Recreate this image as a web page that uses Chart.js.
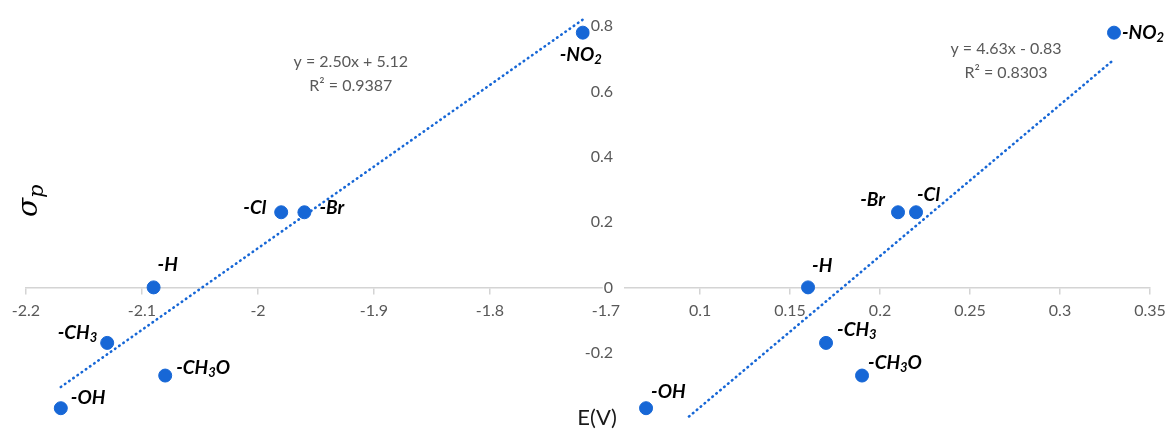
<!DOCTYPE html>
<html>
<head>
<meta charset="utf-8">
<script src="https://cdn.jsdelivr.net/npm/chart.js@4.4.1/dist/chart.umd.min.js"></script>
<style>
  body { margin: 0; background: #fff; width: 1167px; height: 431px; overflow: hidden; position: relative; }
  canvas { position: absolute; top: 0; }
  #leftChart { left: 0; }
  #rightChart { left: 540px; }
</style>
</head>
<body>
<canvas id="leftChart" width="620" height="431"></canvas>
<canvas id="rightChart" width="627" height="431"></canvas>
<script>
// substituents, same order in both panels ("_" = next char is subscript)
const groups = ['-OH', '-CH_3', '-H', '-CH_3O', '-Cl', '-Br', '-NO_2'];
// Hammett sigma_p (y, both panels)
const sigmaP = [-0.37, -0.17, 0, -0.27, 0.23, 0.23, 0.78];
// E(V) for left panel and right panel
const leftE = [-2.17, -2.13, -2.09, -2.08, -1.98, -1.96, -1.72];
const rightE = [0.07, 0.17, 0.16, 0.19, 0.22, 0.21, 0.33];

// trendlines [slope, intercept] and R²
const leftTrend = [2.50, 5.12];
const rightTrend = [4.63, -0.83];
const leftR2 = 0.9387;
const rightR2 = 0.8303;

// tick labels
const leftXTicks = [-2.2, -2.1, -2.0, -1.9, -1.8, -1.7];
const rightXTicks = [0.1, 0.15, 0.2, 0.25, 0.3, 0.35];
const yTicks = [-0.2, 0, 0.2, 0.4, 0.6, 0.8];

// where each data label sits next to its point: [dx, dy, align]
const leftSpots = [[10, -10, 'left'], [-10, -10, 'right'], [4, -23, 'left'], [11, -8, 'left'],
                   [-15, -4, 'right'], [15, -4, 'left'], [-2, 22, 'center']];
const rightSpots = [[5, -16, 'left'], [11, -13, 'left'], [4, -22, 'left'], [6, -13, 'left'],
                    [1, -17, 'left'], [-13, -12, 'right'], [8, 0, 'left']];

const blue = '#1767d6';
const grey = '#595959';
const axisGrey = '#d4d4d4';
const tickFont = { family: 'Lato', size: 16 };

function drawRich(ctx, text, x, y, align, size) {
  const segs = [];
  for (let i = 0; i < text.length; i++) {
    if (text[i] === '_') { segs.push([text[i + 1], true]); i++; }
    else if (segs.length && !segs[segs.length - 1][1]) segs[segs.length - 1][0] += text[i];
    else segs.push([text[i], false]);
  }
  const big = 'italic bold ' + size + 'px Lato';
  const small = 'italic bold ' + Math.round(size * 0.68) + 'px Lato';
  let total = 0;
  segs.forEach(s => { ctx.font = s[1] ? small : big; s.push(ctx.measureText(s[0]).width); total += s[2]; });
  let cx = align === 'left' ? x : align === 'right' ? x - total : x - total / 2;
  ctx.textAlign = 'left';
  ctx.textBaseline = 'middle';
  ctx.fillStyle = '#000';
  segs.forEach(s => {
    ctx.font = s[1] ? small : big;
    ctx.fillText(s[0], cx, s[1] ? y + 5 : y);
    cx += s[2];
  });
}

function eqText(t) {
  const b = t[1];
  return 'y = ' + t[0].toFixed(2) + 'x ' + (b < 0 ? '- ' : '+ ') + Math.abs(b).toFixed(2);
}

// drop the label overhang padding so the plot area is exactly what layout.padding says
function noPad(s) { s.paddingLeft = 0; s.paddingRight = 0; s.paddingTop = 0; s.paddingBottom = 0; }

function makeChart(id, xs, xMin, xMax, xTicks, trend, r2, eqAt, spots, padding, showY, extra) {
  const pts = xs.map((x, i) => ({ x: x, y: sigmaP[i] }));
  const lo = Math.min(...xs), hi = Math.max(...xs);
  const trendPts = [lo, hi].map(x => ({ x: x, y: trend[0] * x + trend[1] }));

  const labelPlugin = {
    id: 'labels',
    afterDatasetsDraw(chart) {
      const ctx = chart.ctx;
      const meta = chart.getDatasetMeta(0);
      ctx.save();
      meta.data.forEach((p, i) => {
        const s = spots[i];
        drawRich(ctx, groups[i], p.x + s[0], p.y + s[1], s[2], 19);
      });
      // trendline equation
      const ex = chart.scales.x.getPixelForValue(eqAt[0]);
      const ey = chart.scales.y.getPixelForValue(eqAt[1]);
      ctx.font = '16px Lato';
      ctx.fillStyle = grey;
      ctx.textAlign = 'center';
      ctx.textBaseline = 'middle';
      ctx.fillText(eqText(trend), ex, ey);
      ctx.fillText('R² = ' + r2.toFixed(4), ex, ey + 24);
      extra(ctx);
      ctx.restore();
    }
  };

  return new Chart(document.getElementById(id), {
    type: 'scatter',
    data: {
      datasets: [
        { data: pts, backgroundColor: blue, borderColor: blue, pointRadius: 6.5, pointHoverRadius: 6.5, clip: false },
        { data: trendPts, showLine: true, pointRadius: 0, borderColor: blue, borderWidth: 2.6,
          borderCapStyle: 'round', borderDash: [0.5, 4.6], fill: false }
      ]
    },
    options: {
      responsive: false,
      animation: false,
      layout: { padding: padding, autoPadding: false },
      plugins: { legend: { display: false }, tooltip: { enabled: false } },
      scales: {
        x: {
          type: 'linear', min: xMin, max: xMax,
          position: { y: 0 },
          afterFit: noPad,
          afterBuildTicks: s => { s.ticks = xTicks.map(v => ({ value: v })); },
          border: { display: true, color: axisGrey, width: 1.5 },
          grid: { display: true, drawOnChartArea: false, drawTicks: true, tickLength: 6, color: axisGrey, lineWidth: 1.5 },
          ticks: { autoSkip: false, maxRotation: 0, padding: 8, color: grey, font: tickFont,
                   callback: v => String(+v.toFixed(2)) }
        },
        y: {
          type: 'linear', min: -0.4, max: 0.88,
          display: showY,
          position: 'left',
          afterFit: s => { noPad(s); if (showY) s.width = 85; },
          afterBuildTicks: s => { s.ticks = yTicks.map(v => ({ value: v })); },
          border: { display: false },
          grid: { display: false, drawTicks: false },
          ticks: { autoSkip: false, padding: 12, color: grey, font: tickFont,
                   showLabelBackdrop: true, backdropColor: '#fff',
                   backdropPadding: { top: 0, bottom: 0, left: 1, right: 4 },
                   callback: v => String(+v.toFixed(2)) }
        }
      }
    },
    plugins: [labelPlugin]
  });
}

// left panel: sigma_p axis title
makeChart('leftChart', leftE, -2.2, -1.7, leftXTicks, leftTrend, leftR2, [-1.92, 0.69], leftSpots,
  { left: 26, right: 14, top: 0, bottom: 13 }, false, ctx => {
    ctx.translate(30, 200);
    ctx.rotate(-Math.PI / 2);
    ctx.fillStyle = '#000';
    ctx.textBaseline = 'middle';
    ctx.textAlign = 'left';
    ctx.font = 'italic 28px "DejaVu Serif"';
    const w = ctx.measureText('σ').width;
    ctx.fillText('σ', -w + 2, 0);
    ctx.font = 'italic 21px "DejaVu Serif"';
    ctx.fillText('p', 2, 8);
  });

// right panel: E(V) axis title
makeChart('rightChart', rightE, 0.0583, 0.35, rightXTicks, rightTrend, rightR2, [0.27, 0.73], rightSpots,
  { left: 0, right: 17, top: 0, bottom: 13 }, true, ctx => {
    ctx.fillStyle = '#1a1a1a';
    ctx.font = '22px Lato';
    ctx.textAlign = 'center';
    ctx.textBaseline = 'middle';
    ctx.fillText('E(V)', 57, 418);
  });
</script>
</body>
</html>
